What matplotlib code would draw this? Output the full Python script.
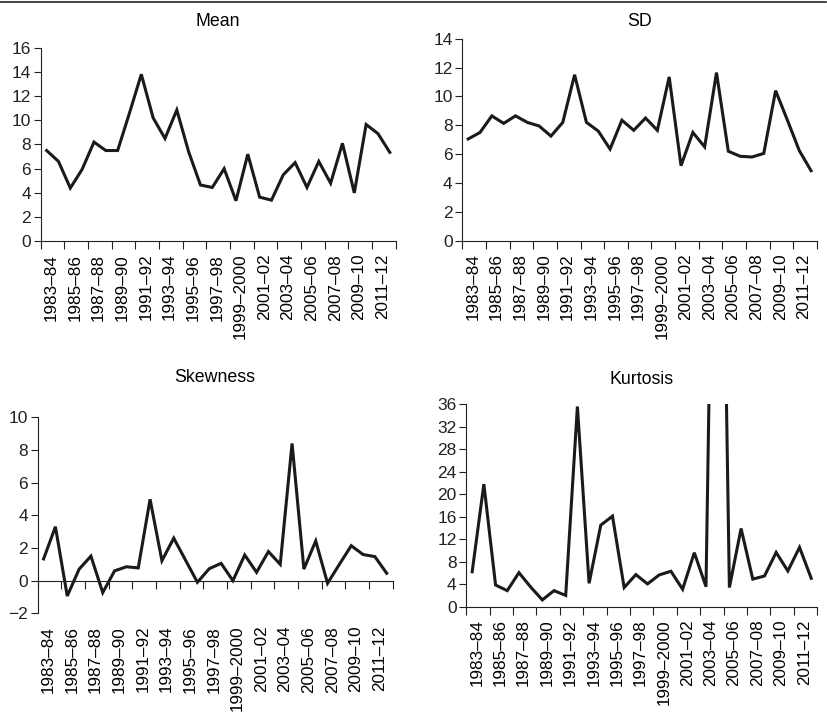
import matplotlib
matplotlib.use("Agg")
import matplotlib.pyplot as plt
from matplotlib.lines import Line2D

plt.rcParams['font.family'] = ['Liberation Sans', 'DejaVu Sans']

years = ["%d\u2013%s" % (y, str(y + 1)[2:]) if y != 1999 else "1999\u20132000"
         for y in range(1983, 2013)]
label_years = years[::2]

mean = [7.5, 6.6, 4.4, 5.95, 8.2, 7.5, 7.5, 10.6, 13.8, 10.2,
        8.5, 10.85, 7.4, 4.65, 4.45, 6.0, 3.35, 7.2, 3.65, 3.4,
        5.5, 6.5, 4.45, 6.6, 4.8, 8.1, 4.0, 9.65, 8.9, 7.35]
sd = [7.05, 7.5, 8.65, 8.13, 8.65, 8.2, 7.95, 7.25, 8.2, 11.5,
      8.2, 7.6, 6.35, 8.35, 7.65, 8.5, 7.65, 11.35, 5.2, 7.5,
      6.5, 11.65, 6.2, 5.85, 5.8, 6.05, 10.4, 8.35, 6.25, 4.85]
skewness = [1.33, 3.3, -0.94, 0.7, 1.5, -0.73, 0.6, 0.85, 0.78, 4.98,
            1.22, 2.6, 1.25, -0.1, 0.73, 1.06, 0.0, 1.57, 0.51, 1.78,
            1.0, 8.4, 0.71, 2.43, -0.16, 1.0, 2.14, 1.6, 1.47, 0.45]
kurtosis = [6.2, 21.8, 3.85, 2.85, 6.05, 3.5, 1.2, 2.85, 2.0, 35.6,
            4.15, 14.5, 16.1, 3.4, 5.7, 4.05, 5.65, 6.3, 3.1, 9.6,
            3.55, 135.0, 3.4, 13.9, 4.9, 5.45, 9.65, 6.35, 10.55, 5.05]

x = list(range(len(years)))
bounds = [i - 0.5 for i in range(0, len(years) + 1, 2)]
label_pos = [i + 0.4 for i in range(0, len(years), 2)]

fig = plt.figure(figsize=(8.28, 7.16), dpi=100)
fig.add_artist(Line2D([0, 0.998], [0.997, 0.997], color='#222222', lw=1.2,
                      transform=fig.transFigure))

panels = [
    ("Mean", mean, [0.0492, 0.663, 0.4287, 0.2704], (0, 16, 2), False),
    ("SD", sd, [0.5583, 0.6638, 0.4284, 0.2822], (0, 14, 2), False),
    ("Skewness", skewness, [0.0455, 0.1434, 0.4287, 0.2738], (-2, 10, 2), True),
    ("Kurtosis", kurtosis, [0.5632, 0.1527, 0.4236, 0.2827], (0, 36, 4), False),
]
title_y = [22, 22, 378, 379]
ink = '#222222'

for (name, vals, rect, (lo, hi, step), zero_axis), ty in zip(panels, title_y):
    ax = fig.add_axes(rect)
    ax.plot(x, vals, color='#1a1a1a', lw=2.2, solid_joinstyle='miter')
    ax.set_xlim(-0.5, len(years) - 0.5)
    ax.set_ylim(lo, hi)
    ax.spines['right'].set_visible(False)
    ax.spines['left'].set_linewidth(0.8)
    ax.spines['left'].set_color(ink)

    if zero_axis:
        # the category axis crosses at zero, labels stay at the bottom
        ax.spines['bottom'].set_visible(False)
        top = ax.spines['top']
        top.set_position(('data', 0))
        top.set_linewidth(0.8)
        top.set_color(ink)
    else:
        ax.spines['top'].set_visible(False)
        ax.spines['bottom'].set_linewidth(0.8)
        ax.spines['bottom'].set_color(ink)

    ax.set_yticks(range(lo, hi + 1, step))
    ax.set_yticklabels([str(v).replace('-', '\u2212') for v in range(lo, hi + 1, step)],
                       fontsize=12.5)
    ax.tick_params(axis='y', length=5, width=0.8, pad=2, colors=ink)

    ax.set_xticks(label_pos)
    ax.set_xticklabels(label_years, rotation=90, fontsize=12.3, va='top', ha='center')
    ax.xaxis.set_ticks(bounds, minor=True)
    if zero_axis:
        ax.tick_params(axis='x', which='major', length=0, pad=9,
                       top=False, labeltop=False)
        ax.tick_params(axis='x', which='minor', top=True, bottom=False,
                       direction='in', length=6, width=0.8, color=ink)
    else:
        ax.tick_params(axis='x', which='major', length=0, pad=9)
        ax.tick_params(axis='x', which='minor', direction='out', length=6,
                       width=0.8, color=ink)

    cx = rect[0] + rect[2] / 2
    fig.text(cx, 1 - ty / 716, name, ha='center', va='center', fontsize=12.8)

fig.savefig("out.png", dpi=100)
